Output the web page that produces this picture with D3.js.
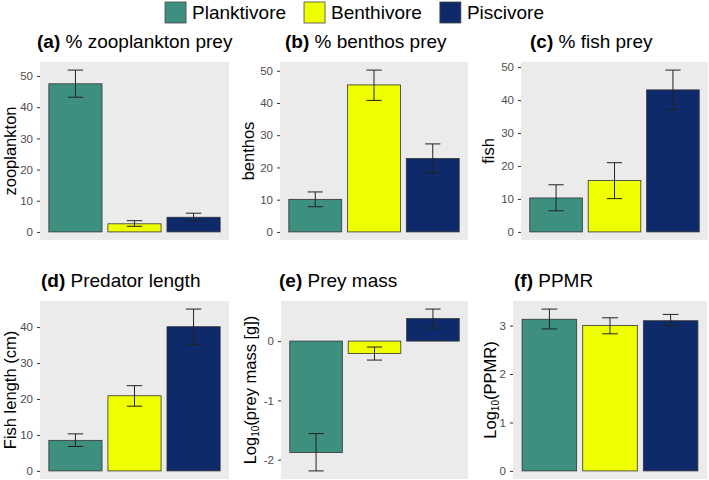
<!DOCTYPE html>
<html>
<head>
  <meta charset="utf-8">
  <script src="https://d3js.org/d3.v7.min.js"></script>
  <style>
    body { margin: 0; background: #fff; }
    svg text { font-family: "Liberation Sans", Arial, sans-serif; }
  </style>
</head>
<body>
<div id="chart"></div>
<script>
  // groups + colours
  const groups = ["Planktivore", "Benthivore", "Piscivore"];
  const fills = ["#3d9080", "#eeff00", "#0e2a6b"];

  // panel text
  const tags = ["(a)", "(b)", "(c)", "(d)", "(e)", "(f)"];
  const titles = [" % zooplankton prey", " % benthos prey", " % fish prey",
    " Predator length", " Prey mass", " PPMR"];
  const yLabels = ["zooplankton", "benthos", "fish", "Fish length (cm)",
    ["Log", "10", "(prey mass [g])"], ["Log", "10", "(PPMR)"]];

  // values: mean, lower and upper error bar
  const zooMean = [47.5, 2.6, 4.7], zooLow = [43.2, 1.8, 3.6], zooHigh = [51.9, 3.6, 6.0];
  const benMean = [10.1, 45.6, 22.8], benLow = [7.8, 40.8, 18.3], benHigh = [12.4, 50.2, 27.3];
  const fishMean = [10.3, 15.6, 43.1], fishLow = [6.4, 10.1, 37.1], fishHigh = [14.3, 21.0, 49.1];
  const lenMean = [8.5, 20.9, 40.1], lenLow = [6.8, 18.0, 35.2], lenHigh = [10.3, 23.7, 45.0];
  const massMean = [-1.88, -0.21, 0.38], massLow = [-2.19, -0.32, 0.22], massHigh = [-1.56, -0.10, 0.54];
  const ppmrMean = [3.13, 3.00, 3.10], ppmrLow = [2.93, 2.83, 3.00], ppmrHigh = [3.34, 3.16, 3.23];

  const yTicks = [
    [0, 10, 20, 30, 40, 50], [0, 10, 20, 30, 40, 50], [0, 10, 20, 30, 40, 50],
    [0, 10, 20, 30, 40], [-2, -1, 0], [0, 1, 2, 3]
  ];

  const means = [zooMean, benMean, fishMean, lenMean, massMean, ppmrMean];
  const lows = [zooLow, benLow, fishLow, lenLow, massLow, ppmrLow];
  const highs = [zooHigh, benHigh, fishHigh, lenHigh, massHigh, ppmrHigh];

  // panel boxes (layout)
  const boxes = [
    { x: 40, y: 62, w: 189, h: 178, tx: 37, ly: 10 },
    { x: 280, y: 62, w: 188, h: 178, tx: 285, ly: 248 },
    { x: 521, y: 62, w: 187, h: 178, tx: 530, ly: 488 },
    { x: 40, y: 301, w: 189, h: 178, tx: 41, ly: 10 },
    { x: 281, y: 301, w: 187, h: 178, tx: 279, ly: 250 },
    { x: 513, y: 301, w: 194, h: 178, tx: 514, ly: 490 }
  ];

  const svg = d3.select("#chart").append("svg")
    .attr("width", 709).attr("height", 480);

  // legend
  const legend = svg.append("g");
  let lx = 0;
  groups.forEach((g, i) => {
    const item = legend.append("g").attr("transform", `translate(${lx},0)`);
    item.append("rect").attr("x", 0).attr("y", 2).attr("width", 21).attr("height", 21)
      .attr("fill", fills[i]).attr("stroke", "#444").attr("stroke-width", 0.8);
    const t = item.append("text").attr("x", 27).attr("y", 19)
      .style("font-size", "19px").text(g);
    lx += 27 + t.node().getComputedTextLength() + 18;
  });
  legend.attr("transform", `translate(${(709 - (lx - 18)) / 2},0)`);

  boxes.forEach((b, p) => {
    const g = svg.append("g");
    const lo = Math.min(0, d3.min(lows[p]));
    const hi = Math.max(0, d3.max(highs[p]));
    const pad = (hi - lo) * 0.05;

    const x = d3.scaleBand().domain(groups).range([b.x, b.x + b.w])
      .paddingInner(0.1).paddingOuter(0.15);
    const y = d3.scaleLinear().domain([lo - pad, hi + pad]).range([b.y + b.h, b.y]);

    g.append("rect").attr("x", b.x).attr("y", b.y).attr("width", b.w).attr("height", b.h)
      .attr("fill", "#ebebeb");

    // y axis
    const ax = g.append("g").attr("transform", `translate(${b.x},0)`)
      .call(d3.axisLeft(y).tickValues(yTicks[p]).tickSize(3).tickPadding(4).tickFormat(d3.format("d")));
    ax.select(".domain").remove();
    ax.selectAll(".tick line").attr("stroke", "#333");
    ax.selectAll(".tick text").attr("fill", "#4d4d4d").style("font-size", "11.5px")
      .style("font-family", "'Liberation Sans', Arial, sans-serif")
      .text(d => d < 0 ? "-" + Math.abs(d) : d);

    // bars
    g.selectAll(".bar").data(groups).join("rect")
      .attr("x", d => x(d))
      .attr("width", x.bandwidth())
      .attr("y", (d, i) => y(Math.max(0, means[p][i])))
      .attr("height", (d, i) => Math.abs(y(means[p][i]) - y(0)))
      .attr("fill", (d, i) => fills[i])
      .attr("stroke", "#333").attr("stroke-width", 0.8);

    // error bars
    const cap = x.step() * 0.26;
    groups.forEach((d, i) => {
      const cx = x(d) + x.bandwidth() / 2;
      const e = g.append("g").attr("stroke", "#222").attr("stroke-width", 1);
      e.append("line").attr("x1", cx).attr("x2", cx)
        .attr("y1", y(lows[p][i])).attr("y2", y(highs[p][i]));
      e.append("line").attr("x1", cx - cap / 2).attr("x2", cx + cap / 2)
        .attr("y1", y(lows[p][i])).attr("y2", y(lows[p][i]));
      e.append("line").attr("x1", cx - cap / 2).attr("x2", cx + cap / 2)
        .attr("y1", y(highs[p][i])).attr("y2", y(highs[p][i]));
    });

    // title
    const tt = g.append("text").attr("x", b.tx).attr("y", b.y - 14)
      .style("font-size", "19px").attr("fill", "#000");
    tt.append("tspan").style("font-weight", "bold").text(tags[p]);
    tt.append("tspan").text(titles[p]);

    // y title
    const cy = b.y + b.h / 2;
    const yt = g.append("text")
      .attr("transform", `translate(${b.ly},${cy}) rotate(-90)`)
      .attr("text-anchor", "middle").attr("dy", "0.36em")
      .style("font-size", "16.5px");
    const lab = yLabels[p];
    if (Array.isArray(lab)) {
      yt.append("tspan").text(lab[0]);
      yt.append("tspan").attr("dy", "0.3em").style("font-size", "10px").text(lab[1]);
      yt.append("tspan").attr("dy", "-0.2em").text(lab[2]);
    } else {
      yt.text(lab);
    }
  });
</script>
</body>
</html>
